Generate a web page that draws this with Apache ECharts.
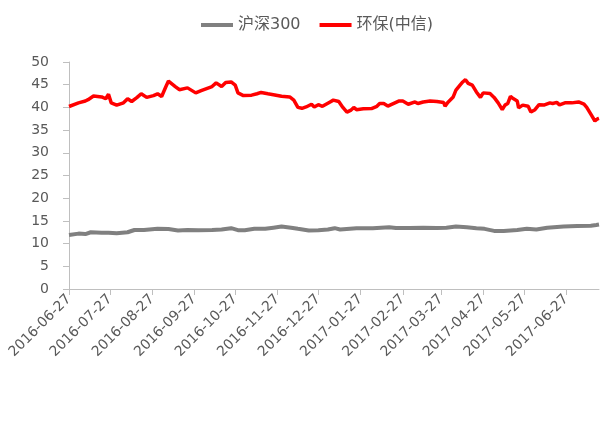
<!DOCTYPE html>
<html>
<head>
<meta charset="utf-8">
<script src="https://cdn.jsdelivr.net/npm/echarts@6/dist/echarts.min.js"></script>
<style>
  html, body { margin: 0; padding: 0; background: #ffffff; }
  #main { width: 603px; height: 440px; }
</style>
</head>
<body>
<div id="main"></div>
<script>
// 环保(中信)
const redDates = ['2016-06-27','2016-07-04','2016-07-09','2016-07-11','2016-07-15','2016-07-21','2016-07-24','2016-07-26','2016-07-28','2016-08-01',
  '2016-08-06','2016-08-09','2016-08-12','2016-08-16','2016-08-19','2016-08-23','2016-08-28','2016-08-31','2016-09-03','2016-09-06',
  '2016-09-08','2016-09-13','2016-09-16','2016-09-22','2016-09-28','2016-10-02','2016-10-10','2016-10-13','2016-10-17','2016-10-20',
  '2016-10-24','2016-10-27','2016-10-29','2016-11-02','2016-11-08','2016-11-12','2016-11-15','2016-11-20','2016-11-25','2016-11-30',
  '2016-12-06','2016-12-09','2016-12-12','2016-12-15','2016-12-18','2016-12-22','2016-12-24','2016-12-27','2016-12-30','2017-01-04',
  '2017-01-07','2017-01-11','2017-01-14','2017-01-17','2017-01-20','2017-01-22','2017-01-24','2017-01-29','2017-02-04','2017-02-08',
  '2017-02-10','2017-02-13','2017-02-16','2017-02-20','2017-02-24','2017-02-27','2017-03-03','2017-03-08','2017-03-10','2017-03-14',
  '2017-03-19','2017-03-24','2017-03-29','2017-03-30','2017-04-01','2017-04-05','2017-04-07','2017-04-10','2017-04-12','2017-04-14',
  '2017-04-16','2017-04-19','2017-04-22','2017-04-25','2017-04-27','2017-05-02','2017-05-05','2017-05-08','2017-05-11','2017-05-13',
  '2017-05-15','2017-05-17','2017-05-19','2017-05-22','2017-05-23','2017-05-26','2017-05-30','2017-06-01','2017-06-04','2017-06-07',
  '2017-06-11','2017-06-15','2017-06-17','2017-06-20','2017-06-22','2017-06-26','2017-07-01','2017-07-06','2017-07-10','2017-07-12',
  '2017-07-15','2017-07-18','2017-07-20','2017-07-21']
const redValues = [40.2,41.0,41.4,41.7,42.5,42.3,41.9,42.9,41.0,40.5,
  41.0,41.9,41.3,42.2,43.0,42.2,42.6,43.0,42.4,44.5,
  45.8,44.6,43.9,44.3,43.2,43.7,44.6,45.4,44.6,45.5,
  45.6,44.9,43.2,42.6,42.7,43.0,43.3,43.0,42.75,42.45,
  42.3,41.6,40.0,39.8,40.1,40.7,40.1,40.6,40.25,41.1,
  41.6,41.3,40.0,38.95,39.4,40.0,39.5,39.7,39.75,40.25,
  40.85,40.85,40.3,40.85,41.4,41.4,40.7,41.2,40.85,41.2,
  41.4,41.3,41.07,40.25,41.1,42.3,43.8,44.9,45.6,46.1,
  45.3,44.9,43.4,42.2,43.2,43.05,42.2,41.0,39.5,40.5,
  40.85,42.45,41.95,41.4,39.9,40.5,40.25,39.0,39.5,40.6,
  40.55,41.0,40.85,41.1,40.55,41.0,41.0,41.2,40.7,40.0,
  38.5,37.0,37.5,37.6]

// 沪深300
const grayDates = ['2016-06-27','2016-07-04','2016-07-09','2016-07-13','2016-07-21','2016-07-26','2016-08-01','2016-08-09','2016-08-14','2016-08-21',
  '2016-08-31','2016-09-08','2016-09-15','2016-09-22','2016-09-30','2016-10-10','2016-10-17','2016-10-24','2016-10-29','2016-11-03',
  '2016-11-10','2016-11-18','2016-11-24','2016-11-30','2016-12-07','2016-12-12','2016-12-20','2016-12-27','2017-01-03','2017-01-08',
  '2017-01-12','2017-01-24','2017-02-05','2017-02-17','2017-02-22','2017-03-04','2017-03-14','2017-03-24','2017-03-31','2017-04-07',
  '2017-04-15','2017-04-22','2017-04-28','2017-05-05','2017-05-12','2017-05-22','2017-05-29','2017-06-05','2017-06-13','2017-06-25',
  '2017-07-05','2017-07-15','2017-07-19','2017-07-21']
const grayValues = [11.9,12.2,12.1,12.5,12.4,12.4,12.3,12.5,13.0,13.0,
  13.25,13.2,12.9,13.0,12.95,13.0,13.1,13.4,12.95,12.95,
  13.25,13.25,13.5,13.75,13.5,13.25,12.9,12.95,13.1,13.4,
  13.1,13.4,13.4,13.6,13.45,13.45,13.5,13.45,13.5,13.75,
  13.6,13.4,13.25,12.8,12.8,13.0,13.25,13.1,13.5,13.75,
  13.85,13.95,14.1,14.2]

const startDay = '2016-06-27'
const endDay = '2017-07-21'

// 按日历日排列的类目轴
const days = []
for (let t = Date.parse(startDay + 'T00:00:00Z'); t <= Date.parse(endDay + 'T00:00:00Z'); t += 86400000) {
  days.push(new Date(t).toISOString().slice(0, 10))
}

const isTickDay = (idx, val) => val.slice(8) === '27' && val <= '2017-06-27'

const textColor = '#595959'
const lineColor = '#bfbfbf'

const chart = echarts.init(document.getElementById('main'))
const option = {
  animation: false,
  backgroundColor: '#ffffff',
  legend: {
    left: 196,
    top: 12,
    icon: 'rect',
    itemWidth: 32,
    itemHeight: 4,
    itemGap: 19,
    data: ['沪深300', '环保(中信)'],
    textStyle: {
      color: textColor,
      fontSize: 16,
      fontFamily: 'DejaVu Sans, Noto Sans CJK SC'
    }
  },
  grid: {
    left: 69,
    right: 4,
    top: 62,
    bottom: 151
  },
  xAxis: {
    type: 'category',
    boundaryGap: false,
    data: days,
    axisLine: { lineStyle: { color: lineColor, width: 1 } },
    axisTick: { interval: isTickDay, length: 6, lineStyle: { color: lineColor } },
    axisLabel: {
      interval: isTickDay,
      rotate: 45,
      margin: 8,
      color: textColor,
      fontSize: 14,
      fontFamily: 'DejaVu Sans'
    },
    splitLine: { show: false }
  },
  yAxis: {
    type: 'value',
    min: 0,
    max: 50,
    interval: 5,
    axisLine: { show: true, lineStyle: { color: lineColor, width: 1 } },
    axisTick: { show: true, length: 6, lineStyle: { color: lineColor } },
    axisLabel: {
      margin: 20,
      color: textColor,
      fontSize: 14,
      fontFamily: 'DejaVu Sans'
    },
    splitLine: { show: false }
  },
  series: [
    {
      name: '沪深300',
      type: 'line',
      showSymbol: false,
      data: grayDates.map((d, i) => [d, grayValues[i]]),
      lineStyle: { color: '#808080', width: 4 },
      itemStyle: { color: '#808080' }
    },
    {
      name: '环保(中信)',
      type: 'line',
      showSymbol: false,
      data: redDates.map((d, i) => [d, redValues[i]]),
      lineStyle: { color: '#ff0000', width: 3.5 },
      itemStyle: { color: '#ff0000' }
    }
  ]
}

chart.setOption(option)
window.onresize = chart.resize
</script>
</body>
</html>
